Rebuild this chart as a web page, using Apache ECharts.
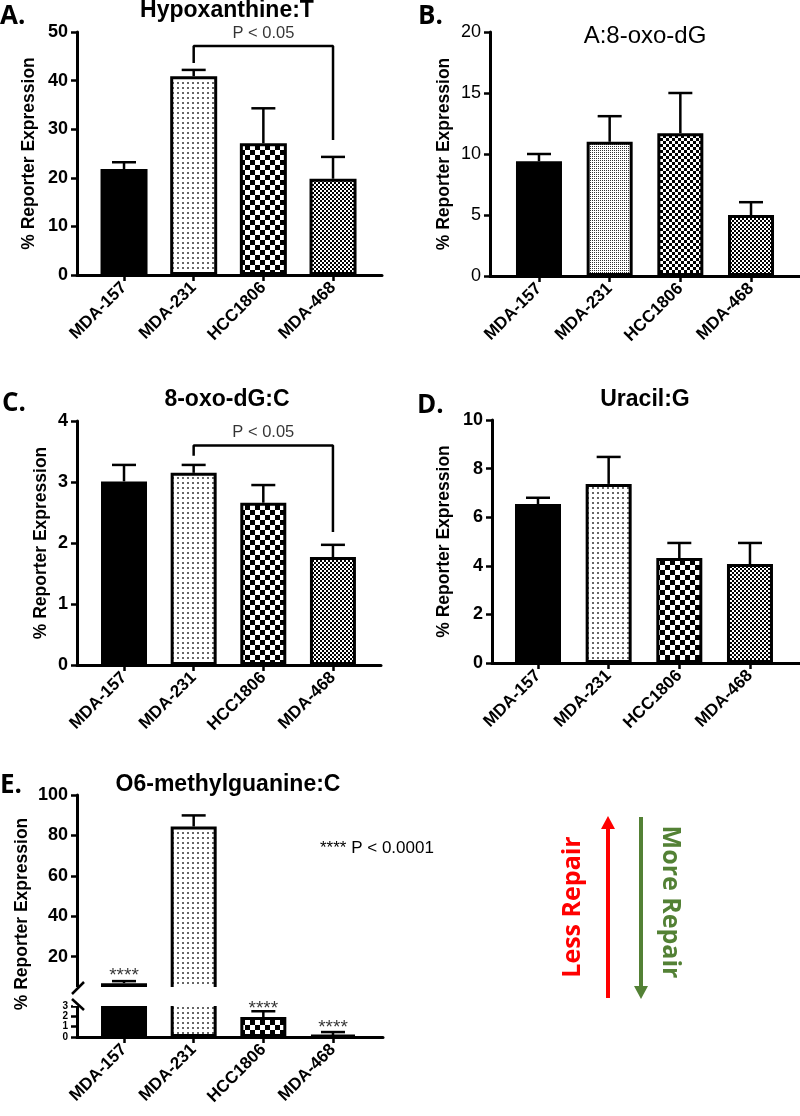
<!DOCTYPE html>
<html><head><meta charset="utf-8">
<script src="https://cdn.jsdelivr.net/npm/echarts@6/dist/echarts.min.js"></script>
<style>html,body{margin:0;padding:0;background:#fff}#c{width:800px;height:1116px}</style>
</head><body><div id="c"></div>
<script>
// ---------- data ----------
const cellLines = ['MDA-157', 'MDA-231', 'HCC1806', 'MDA-468'];

const hypoxMean = [21.8, 40.9, 27.1, 19.8];
const hypoxErr  = [1.4, 1.3, 7.2, 4.5];
const hypoxBracket = [43.6, 47.1, 47.1, 27.8];   // MDA-231 leg, top, top, MDA-468 leg

const oxoAMean = [9.4, 11.0, 11.7, 5.0];
const oxoAErr  = [0.6, 2.1, 3.3, 1.05];

const oxoCMean = [3.01, 3.15, 2.66, 1.77];
const oxoCErr  = [0.27, 0.13, 0.29, 0.2];
const oxoCBracket = [3.43, 3.6, 3.6, 2.18];

const uracilMean = [6.54, 7.37, 4.32, 4.07];
const uracilErr  = [0.26, 1.11, 0.62, 0.87];

const o6Mean = [6.9, 84.4, 1.94, 0.19];
const o6Err  = [1.0, 5.5, 0.56, 0.29];
const o6StarsUpper = [[1, 10.3]];
const o6StarsLower = [[3, 2.75], [4, 0.85]];

const ticksA = [0, 10, 20, 30, 40, 50];
const ticksB = [0, 5, 10, 15, 20];
const ticksC = [0, 1, 2, 3, 4];
const ticksD = [0, 2, 4, 6, 8, 10];
const ticksEUpper = [20, 40, 60, 80, 100];
const ticksELower = [0, 1, 2, 3];

// ---------- patterns ----------
function pat(size, draw) {
  const c = document.createElement('canvas');
  c.width = c.height = size;
  const g = c.getContext('2d');
  g.fillStyle = '#fff'; g.fillRect(0, 0, size, size);
  draw(g);
  return { image: c, repeat: 'repeat' };
}
const dots = pat(5, g => { g.fillStyle = '#666'; g.fillRect(2, 2, 2, 2); });
const coarseChk = pat(10, g => { g.fillStyle = '#000'; g.fillRect(0, 0, 5, 5); g.fillRect(5, 5, 5, 5); });
const fineChk = pat(4, g => { g.fillStyle = '#000'; g.fillRect(0, 0, 2, 2); g.fillRect(2, 2, 2, 2); });
const fineDotsB = pat(2, g => { g.fillStyle = '#333'; g.fillRect(0, 0, 1, 1); });
const medChkB = pat(6, g => { g.fillStyle = '#000'; g.fillRect(0, 0, 3, 3); g.fillRect(3, 3, 3, 3); });
const fillsStd = ['#000', dots, coarseChk, fineChk];
const fillsB = ['#000', fineDotsB, medChkB, fineChk];

// ---------- helpers ----------
const FONT = "'Liberation Sans', Arial, sans-serif";
const LW = 3;

function xAxisCfg(gi, min, max, show) {
  return {
    type: 'value', gridIndex: gi, min: min, max: max, show: show !== false,
    axisLine: { show: true, onZero: false, lineStyle: { color: '#000', width: LW } },
    axisTick: { show: true, length: 6, customValues: [1, 2, 3, 4], lineStyle: { color: '#000', width: 2.5 } },
    axisLabel: {
      show: true, customValues: [1, 2, 3, 4], rotate: 45, margin: 10,
      formatter: v => cellLines[Math.round(v) - 1] || '',
      color: '#000', fontFamily: FONT, fontWeight: 'bold', fontSize: 17
    },
    splitLine: { show: false }
  };
}
function yAxisCfg(gi, ticks, opts) {
  opts = opts || {};
  const cfg = {
    type: 'value', gridIndex: gi,
    min: opts.min !== undefined ? opts.min : ticks[0],
    max: opts.max !== undefined ? opts.max : ticks[ticks.length - 1],
    axisLine: { show: true, onZero: false, lineStyle: { color: '#000', width: LW } },
    axisTick: { show: true, length: 6, customValues: ticks, lineStyle: { color: '#000', width: 2.5 } },
    axisLabel: {
      customValues: ticks, margin: 9, color: '#000', fontFamily: FONT,
      showMinLabel: true, showMaxLabel: true, hideOverlap: false,
      fontWeight: opts.weight || 'bold', fontSize: opts.fontSize || 18,
      lineHeight: opts.fontSize || 18
    },
    splitLine: { show: false }
  };
  if (opts.name) {
    cfg.name = '% Reporter Expression';
    cfg.nameLocation = 'middle';
    cfg.nameGap = opts.nameGap;
    cfg.nameTextStyle = { color: '#000', fontFamily: FONT, fontWeight: 'bold', fontSize: 17.5 };
  }
  return cfg;
}
function barSeries(gi, means, fills, width) {
  return {
    type: 'bar', xAxisIndex: gi, yAxisIndex: gi, barWidth: width || 46, clip: true, z: 2,
    data: means.map((m, j) => ({
      value: [j + 1, m],
      itemStyle: { color: fills[j], borderColor: '#000', borderWidth: LW }
    }))
  };
}
function errSeries(gi, means, errs) {
  return {
    type: 'custom', xAxisIndex: gi, yAxisIndex: gi, clip: true, z: 1,
    data: means.map((m, j) => [j + 1, m, errs[j]]),
    renderItem: (params, api) => {
      const x = api.value(0), m = api.value(1), e = api.value(2);
      const p0 = api.coord([x, m]);
      const p1 = api.coord([x, m + e]);
      const st = { stroke: '#000', lineWidth: 2.5 };
      return {
        type: 'group', children: [
          { type: 'line', shape: { x1: p0[0], y1: p0[1], x2: p1[0], y2: p1[1] }, style: st },
          { type: 'line', shape: { x1: p1[0] - 12, y1: p1[1], x2: p1[0] + 12, y2: p1[1] }, style: st }
        ]
      };
    }
  };
}
function bracketSeries(gi, b) {
  return [{
    type: 'line', xAxisIndex: gi, yAxisIndex: gi, symbol: 'none', z: 3,
    lineStyle: { color: '#000', width: 2.5 },
    data: [[2, b[0]], [2, b[1]], [4, b[2]], [4, b[3]]]
  }, {
    type: 'scatter', xAxisIndex: gi, yAxisIndex: gi, symbolSize: 1, z: 3,
    itemStyle: { color: 'rgba(0,0,0,0)' },
    label: { show: true, position: 'top', distance: 4, formatter: 'P < 0.05',
      color: '#000', fontFamily: FONT, fontSize: 16.5 },
    data: [[3, b[1]]]
  }];
}
function starSeries(gi, pts) {
  return {
    type: 'scatter', xAxisIndex: gi, yAxisIndex: gi, symbolSize: 1, z: 4,
    itemStyle: { color: 'rgba(0,0,0,0)' },
    label: { show: true, position: 'inside', formatter: '****',
      color: '#000', fontFamily: FONT, fontSize: 19 },
    data: pts
  };
}
function txt(x, y, s, o) {
  o = o || {};
  return {
    type: 'text', x: x, y: y, z: 100, rotation: o.rot || 0,
    style: {
      text: s, fill: o.color || '#000', font: o.font,
      textAlign: o.align || 'center', textVerticalAlign: 'middle'
    }
  };
}

// ---------- option ----------
const option = {
  animation: false,
  backgroundColor: '#fff',
  grid: [
    { left: 77, top: 32, width: 305, height: 243 },
    { left: 490, top: 32, width: 310, height: 244 },
    { left: 77, top: 421, width: 304, height: 244 },
    { left: 492, top: 420, width: 308, height: 243 },
    { left: 77, top: 795, width: 306, height: 195 },
    { left: 77, top: 1003, width: 306, height: 34 }
  ].map(g => Object.assign(g, { containLabel: false, outerBoundsMode: 'none' })),
  xAxis: [
    xAxisCfg(0, 0.325, 4.703),
    xAxisCfg(1, 0.307, 4.693),
    xAxisCfg(2, 0.325, 4.69),
    xAxisCfg(3, 0.349, 4.708),
    xAxisCfg(4, 0.325, 4.718, false),
    xAxisCfg(5, 0.325, 4.718)
  ],
  yAxis: [
    yAxisCfg(0, ticksA, { name: true, nameGap: 39 }),
    yAxisCfg(1, ticksB, { name: true, nameGap: 37, weight: 'normal' }),
    yAxisCfg(2, ticksC, { name: true, nameGap: 27 }),
    yAxisCfg(3, ticksD, { name: true, nameGap: 39 }),
    yAxisCfg(4, ticksEUpper, { min: 3.5, max: 100 }),
    yAxisCfg(5, ticksELower, { min: 0, max: 3.3, fontSize: 10 })
  ],
  series: [
    barSeries(0, hypoxMean, fillsStd, 47), errSeries(0, hypoxMean, hypoxErr),
    ...bracketSeries(0, hypoxBracket),
    barSeries(1, oxoAMean, fillsB, 46), errSeries(1, oxoAMean, oxoAErr),
    barSeries(2, oxoCMean, fillsStd, 46), errSeries(2, oxoCMean, oxoCErr),
    ...bracketSeries(2, oxoCBracket),
    barSeries(3, uracilMean, fillsStd, 46), errSeries(3, uracilMean, uracilErr),
    barSeries(4, o6Mean, fillsStd, 46), errSeries(4, o6Mean, o6Err),
    barSeries(5, o6Mean, fillsStd, 46), errSeries(5, o6Mean, o6Err),
    starSeries(4, o6StarsUpper), starSeries(5, o6StarsLower)
  ],
  graphic: [
    // axis break cover + marks
    { type: 'rect', z: 90, shape: { x: 73, y: 987, width: 152, height: 19 }, style: { fill: '#fff' } },
    { type: 'line', z: 95, shape: { x1: 72, y1: 994, x2: 84, y2: 982 }, style: { stroke: '#000', lineWidth: 2.5 } },
    { type: 'line', z: 95, shape: { x1: 72, y1: 999, x2: 84, y2: 1010 }, style: { stroke: '#000', lineWidth: 2.5 } },
    // panel letters
    txt(0, 17, 'A.', { align: 'left', font: "bold 26px 'Open Sans', sans-serif" }),
    txt(418, 17, 'B.', { align: 'left', font: "bold 26px 'Open Sans', sans-serif" }),
    txt(2, 404, 'C.', { align: 'left', font: "bold 26px 'Open Sans', sans-serif" }),
    txt(417, 406, 'D.', { align: 'left', font: "bold 26px 'Open Sans', sans-serif" }),
    txt(0, 786, 'E.', { align: 'left', font: "bold 26px 'Open Sans', sans-serif" }),
    // titles
    txt(227, 11, 'Hypoxanthine:T', { font: "bold 23px " + FONT }),
    txt(645, 36, 'A:8-oxo-dG', { font: "24px " + FONT }),
    txt(227, 400, '8-oxo-dG:C', { font: "bold 23px " + FONT }),
    txt(645, 400, 'Uracil:G', { font: "bold 23px " + FONT }),
    txt(228, 785, 'O6-methylguanine:C', { font: "bold 23px " + FONT }),
    // E axis name & note
    txt(22, 914, '% Reporter Expression', { rot: Math.PI / 2, font: "bold 17.5px " + FONT }),
    txt(320, 848, '**** P < 0.0001', { align: 'left', font: "17px " + FONT }),
    // arrows
    { type: 'line', z: 50, shape: { x1: 608, y1: 998, x2: 608, y2: 826 }, style: { stroke: '#ff0000', lineWidth: 4 } },
    { type: 'polygon', z: 50, shape: { points: [[601, 829], [615, 829], [608, 816]] }, style: { fill: '#ff0000' } },
    { type: 'line', z: 50, shape: { x1: 641, y1: 817, x2: 641, y2: 989 }, style: { stroke: '#538135', lineWidth: 4 } },
    { type: 'polygon', z: 50, shape: { points: [[634, 986], [648, 986], [641, 999]] }, style: { fill: '#538135' } },
    txt(573, 907, 'Less Repair', { rot: Math.PI / 2, color: '#ff0000', font: "bold 25px 'Open Sans', sans-serif" }),
    txt(670, 902, 'More Repair', { rot: -Math.PI / 2, color: '#538135', font: "bold 25px 'Open Sans', sans-serif" })
  ]
};

const chart = echarts.init(document.getElementById('c'), null, { renderer: 'canvas' });
chart.setOption(option);
</script>
</body></html>
